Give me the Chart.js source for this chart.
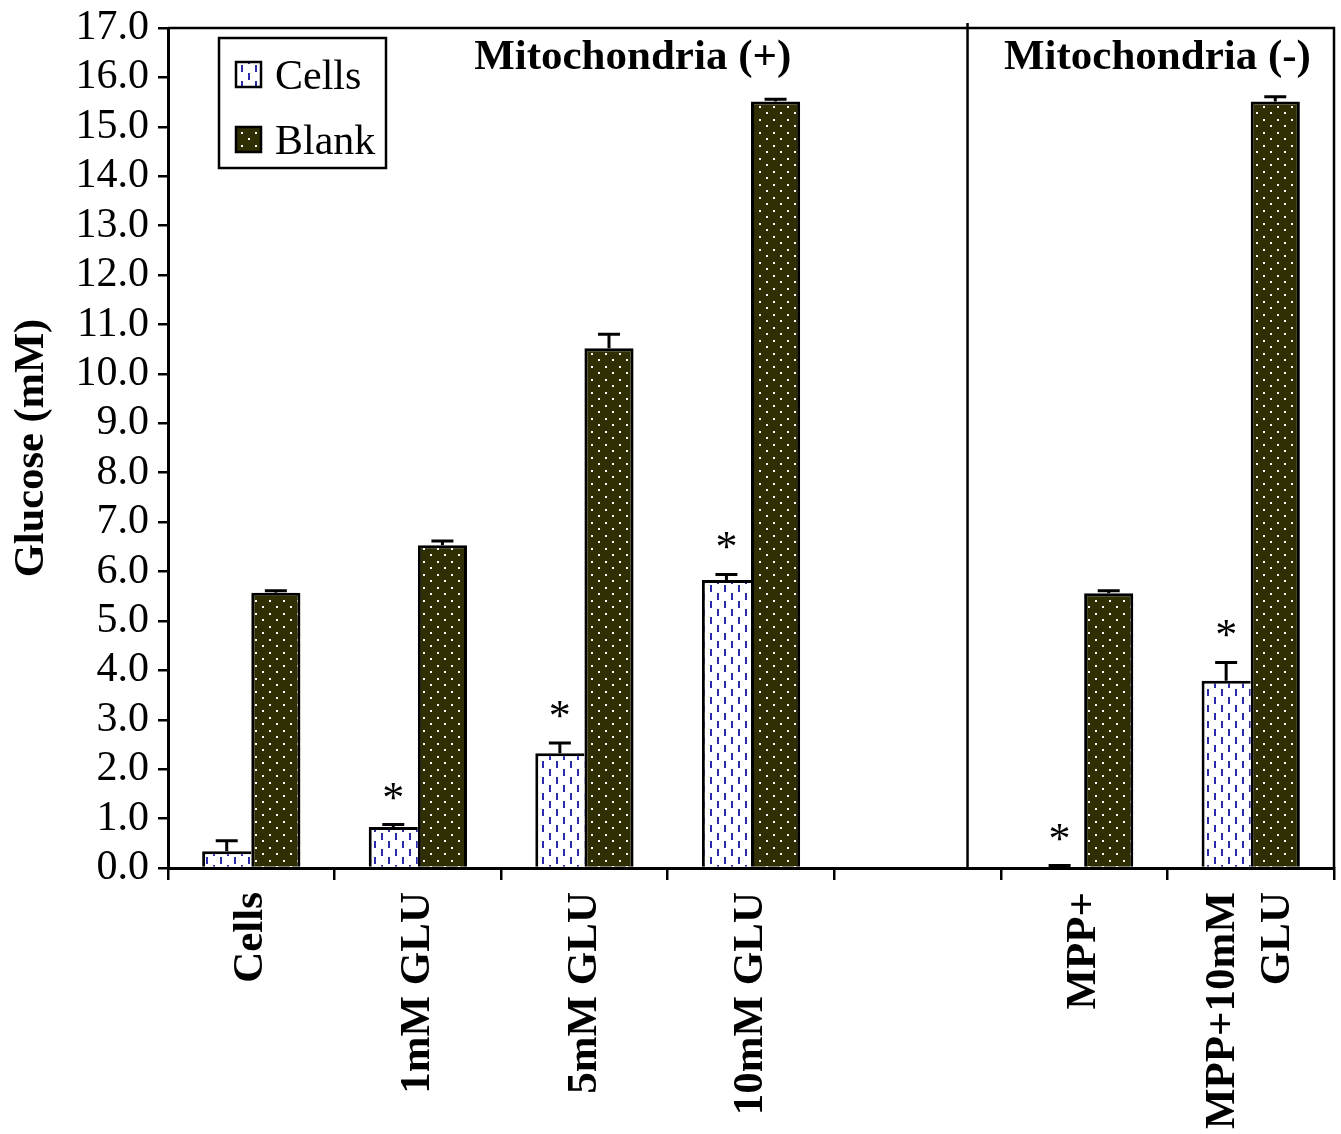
<!DOCTYPE html>
<html>
<head>
<meta charset="utf-8">
<script src="https://cdn.jsdelivr.net/npm/chart.js@4.4.1/dist/chart.umd.min.js"></script>
<style>
  html, body { margin: 0; padding: 0; background: #fff; }
  #wrap { width: 1341px; height: 1134px; }
</style>
</head>
<body>
<div id="wrap"><canvas id="c" width="1341" height="1134"></canvas></div>
<script>
// Glucose remaining in medium, cells vs. blank, with and without mitochondria
const categories = ['Cells', '1mM GLU', '5mM GLU', '10mM GLU', '', 'MPP+', ['MPP+10mM', 'GLU']];
const seriesNames = ['Cells', 'Blank'];
const cellsValues = [0.34, 0.83, 2.32, 5.83, null, 0.0, 3.79];
const cellsErrors = [0.21, 0.05, 0.21, 0.11, null, 0.05, 0.37];
const blankValues = [5.57, 6.53, 10.52, 15.51, null, 5.56, 15.51];
const blankErrors = [0.04, 0.09, 0.28, 0.05, null, 0.05, 0.10];
const cellsSignificant = [false, true, true, true, false, true, true];
const sectionTitles = ['Mitochondria (+)', 'Mitochondria (-)'];
const yMin = 0, yMax = 17, yStep = 1;

const SERIF = '"Liberation Serif", "Times New Roman", serif';
const ctx = document.getElementById('c').getContext('2d');

// fill patterns: blue dashes on white, white dots on dark olive
function makeDashPattern() {
  const c = document.createElement('canvas');
  c.width = 14; c.height = 16;
  const g = c.getContext('2d');
  g.fillStyle = '#ffffff'; g.fillRect(0, 0, 14, 16);
  g.fillStyle = '#2b2bab';
  g.fillRect(3, 1, 2, 7);
  g.fillRect(10, 9, 2, 7);
  return ctx.createPattern(c, 'repeat');
}
function makeDotPattern() {
  const c = document.createElement('canvas');
  c.width = 14; c.height = 13;
  const g = c.getContext('2d');
  g.fillStyle = '#302e03'; g.fillRect(0, 0, 14, 13);
  g.fillStyle = '#ffffff';
  g.fillRect(3, 2, 2, 2);
  g.fillRect(10, 8, 2, 2);
  return ctx.createPattern(c, 'repeat');
}
const cellsFill = makeDashPattern();
const blankFill = makeDotPattern();

const errorBars = {
  id: 'errorBars',
  afterDatasetsDraw(chart) {
    const g = chart.ctx;
    const y = chart.scales.y;
    const errs = [cellsErrors, blankErrors];
    const vals = [cellsValues, blankValues];
    g.save();
    g.strokeStyle = '#000';
    g.lineWidth = 3;
    chart.data.datasets.forEach((ds, di) => {
      const meta = chart.getDatasetMeta(di);
      meta.data.forEach((bar, i) => {
        if (vals[di][i] == null || errs[di][i] == null) return;
        const y0 = y.getPixelForValue(vals[di][i]);
        const y1 = y.getPixelForValue(vals[di][i] + errs[di][i]);
        g.beginPath();
        g.moveTo(bar.x, y0);
        g.lineTo(bar.x, y1);
        g.moveTo(bar.x - 11, y1);
        g.lineTo(bar.x + 11, y1);
        g.stroke();
      });
    });
    g.restore();
  }
};

const decorations = {
  id: 'decorations',
  beforeDraw(chart) {
    // two-line category label: center its lines on the tick
    const xs = chart.scales.x;
    const items = xs.getLabelItems(chart.chartArea);
    items.forEach(it => {
      if (Array.isArray(it.label)) {
        it.options.translation[0] -= it.font.lineHeight * (it.label.length - 1) / 2;
      }
    });
  },
  afterDraw(chart) {
    const g = chart.ctx;
    const a = chart.chartArea;
    const xs = chart.scales.x, ys = chart.scales.y;
    g.save();
    g.strokeStyle = '#000';
    g.lineWidth = 2.5;
    // frame: top and right edges
    g.beginPath();
    g.moveTo(a.left, a.top);
    g.lineTo(a.right, a.top);
    g.lineTo(a.right, a.bottom);
    g.stroke();
    // section divider
    const dx = xs.getPixelForValue(4.3);
    g.beginPath();
    g.moveTo(dx, a.top - 5);
    g.lineTo(dx, a.bottom);
    g.stroke();

    // section titles
    g.fillStyle = '#000';
    g.textAlign = 'center';
    g.textBaseline = 'alphabetic';
    g.font = 'bold 43px ' + SERIF;
    g.fillText(sectionTitles[0], xs.getPixelForValue(2.29), a.top + 41);
    g.fillText(sectionTitles[1], xs.getPixelForValue(5.44), a.top + 41);

    // significance marks above the cells bars
    g.font = '44px ' + SERIF;
    const meta = chart.getDatasetMeta(0);
    cellsSignificant.forEach((s, i) => {
      if (!s) return;
      const top = ys.getPixelForValue(cellsValues[i] + cellsErrors[i]);
      g.fillText('*', meta.data[i].x, top - 13);
    });

    // legend
    const lx = a.left + 51, ly = a.top + 10;
    g.lineWidth = 2.5;
    g.strokeRect(lx, ly, 167, 130);
    const fills = [cellsFill, blankFill];
    g.textAlign = 'left';
    seriesNames.forEach((n, k) => {
      const sy = ly + 24 + k * 65;
      g.fillStyle = fills[k];
      g.fillRect(lx + 17, sy, 25, 25);
      g.strokeRect(lx + 17, sy, 25, 25);
      g.fillStyle = '#000';
      g.font = '42px ' + SERIF;
      g.fillText(n, lx + 56, sy + 27);
    });
    g.restore();
  }
};

new Chart(ctx, {
  type: 'bar',
  data: {
    labels: categories,
    datasets: [
      {
        label: seriesNames[0],
        data: cellsValues,
        backgroundColor: cellsFill,
        borderColor: '#000',
        borderWidth: { top: 3, left: 3, right: 0, bottom: 0 },
        borderSkipped: false,
        categoryPercentage: 0.59,
        barPercentage: 1.0
      },
      {
        label: seriesNames[1],
        data: blankValues,
        backgroundColor: blankFill,
        borderColor: '#000',
        borderWidth: { top: 3, left: 3, right: 3, bottom: 0 },
        borderSkipped: false,
        categoryPercentage: 0.59,
        barPercentage: 1.0
      }
    ]
  },
  options: {
    responsive: false,
    animation: false,
    devicePixelRatio: 1,
    layout: { padding: { top: 28, right: 7, left: 0, bottom: 0 } },
    plugins: { legend: { display: false }, tooltip: { enabled: false } },
    scales: {
      x: {
        grid: { drawOnChartArea: false, drawTicks: true, tickLength: 12, color: '#000', lineWidth: 2.5, offset: true },
        border: { display: true, color: '#000', width: 3 },
        ticks: {
          autoSkip: false, maxRotation: 90, minRotation: 90, padding: 12, color: '#000',
          font: { family: SERIF, size: 43, weight: 'bold', lineHeight: 1.28 }
        },
        afterFit(s) { s.height = 266; s.paddingLeft = 0; s.paddingRight = 0; }
      },
      y: {
        min: yMin, max: yMax,
        ticks: {
          stepSize: yStep, autoSkip: false, padding: 9, color: '#000',
          callback: v => v.toFixed(1),
          font: { family: SERIF, size: 42 }
        },
        grid: { drawOnChartArea: false, tickLength: 10, color: '#000', lineWidth: 2.5 },
        border: { display: true, color: '#000', width: 3 },
        title: {
          display: true, text: 'Glucose (mM)', color: '#000',
          font: { family: SERIF, size: 42.5, weight: 'bold' },
          padding: { top: 7, bottom: 0 }
        },
        afterFit(s) { s.width = 168; s.paddingTop = 0; s.paddingBottom = 0; }
      }
    }
  },
  plugins: [errorBars, decorations]
});
</script>
</body>
</html>
